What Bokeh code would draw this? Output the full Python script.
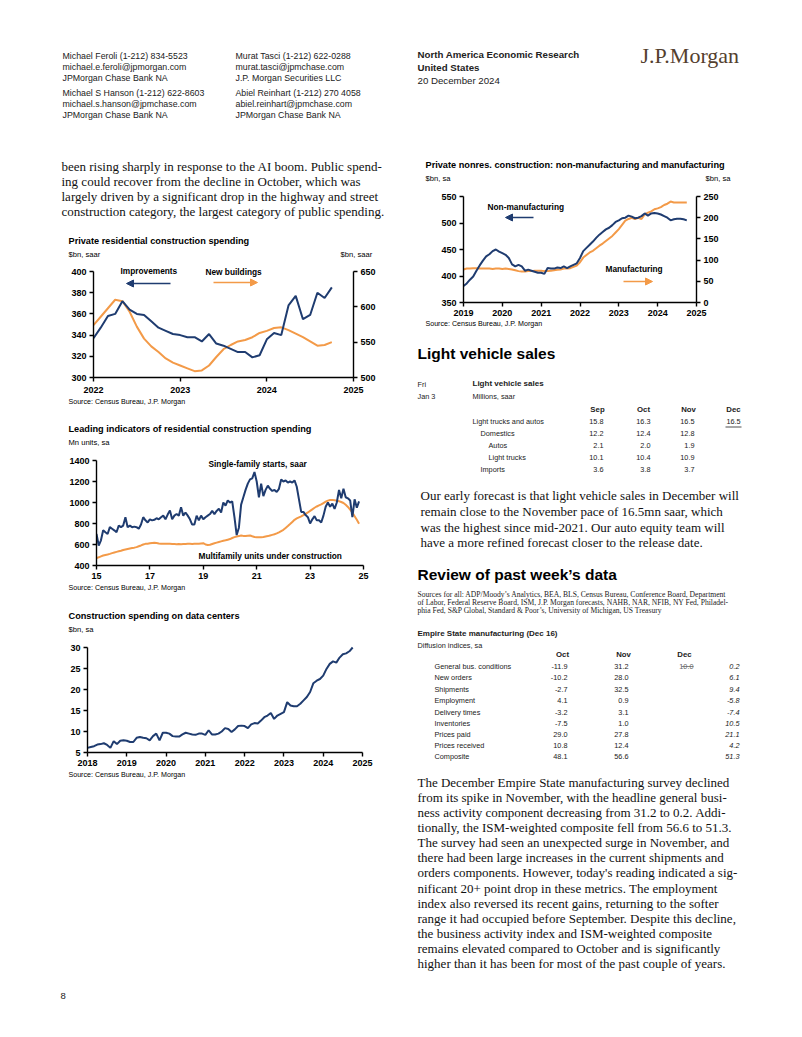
from bokeh.plotting import figure
from bokeh.models import Range1d, LinearAxis, Label, Arrow, NormalHead, FixedTicker
from bokeh.layouts import column, row
from bokeh.core.properties import value
from bokeh.embed import file_html
from bokeh.resources import INLINE

# ---------------- data ----------------
res_start = 2022
res_improvements = [337, 347, 358, 360, 372, 364, 360, 359, 353, 347, 344, 341,
                    340, 338, 338, 334, 341, 332, 330, 327, 324, 324, 319, 321,
                    336, 342, 340, 368, 377, 355, 359, 380, 375, 385]
res_new_buildings = [574, 586, 598, 610, 608, 593, 572, 555, 544, 536, 527, 521,
                     517, 513, 509, 510, 517, 529, 540, 546, 551, 553, 557, 563,
                     566, 570, 571, 567, 562, 557, 551, 545, 546, 550]
res_x_ticks = [2022, 2023, 2024, 2025]
res_left_ticks = [300, 320, 340, 360, 380, 400]
res_right_ticks = [500, 550, 600, 650]

lead_start = 2015
lead_single_family = [700, 590, 640, 735, 717, 700, 765, 750, 735, 717, 780, 765,
                      780, 860, 765, 780, 765, 770, 765, 750, 790, 860, 830, 810,
                      840, 830, 835, 850, 840, 860, 875, 840, 885, 925, 840, 875,
                      890, 875, 955, 875, 905, 875, 840, 790, 790, 875, 830, 875,
                      840, 860, 875, 890, 920, 890, 920, 940, 905, 1000, 970, 1020,
                      1000, 1010, 860, 690, 760, 980, 1050, 1120, 1180, 1220, 1230, 1290,
                      1200, 1050, 1180, 1060, 1120, 1160, 1130, 1110, 1120, 1100, 1130, 1220,
                      1200, 1210, 1190, 1200, 1190, 1210, 1150, 1030, 910, 910, 880, 860,
                      800, 840, 870, 830, 830, 810, 875, 960, 1000, 960, 990, 940,
                      1000, 1120, 1040, 1130, 1050, 1040, 1020, 860, 1030, 950, 1010]
lead_multifamily = [470, 478, 487, 495, 500, 505, 511, 518, 524, 530, 535, 540,
                    547, 552, 557, 562, 566, 570, 575, 583, 591, 600, 606, 608,
                    612, 615, 616, 614, 610, 607, 606, 606, 607, 606, 605, 604,
                    603, 604, 603, 604, 605, 606, 606, 605, 606, 607, 608, 610,
                    612, 600, 596, 598, 605, 612, 618, 624, 630, 636, 640, 646,
                    652, 662, 670, 676, 680, 686, 682, 680, 684, 686, 678, 672,
                    670, 670, 670, 672, 676, 680, 686, 692, 698, 706, 716, 728,
                    740, 758, 776, 795, 815, 835, 848, 858, 868, 880, 892, 905,
                    920, 935, 950, 962, 972, 982, 995, 1008, 1018, 1024, 1025, 1022,
                    1018, 1012, 1005, 995, 978, 958, 932, 905, 870, 835, 798]
lead_x_ticks = [2015, 2017, 2019, 2021, 2023, 2025]
lead_x_labels = ["15", "17", "19", "21", "23", "25"]
lead_y_ticks = [400, 600, 800, 1000, 1200, 1400]

dc_start = 2018
dc_spending = [6.1, 6.3, 6.5, 6.9, 7.0, 7.2, 6.8, 6.1, 7.7, 7.0, 7.8,
               7.9, 7.8, 7.5, 7.5, 8.5, 8.7, 8.5, 8.4, 7.9, 8.9, 9.5, 7.9,
               9.7, 9.7, 9.5, 8.9, 8.8, 8.8, 9.3, 9.7, 9.5, 9.3, 9.2, 9.5,
               9.5, 9.2, 10.3, 9.3, 9.3, 9.5, 10.0, 10.8, 10.6, 9.9, 10.5, 11.3,
               11.4, 11.3, 10.8, 11.7, 12.0, 11.9, 12.6, 13.4, 13.8, 14.4, 13.0, 13.8,
               14.2, 14.6, 17.0, 16.2, 16.0, 16.0, 16.6, 17.4, 18.2, 19.4, 21.5, 22.1,
               22.5, 23.3, 24.9, 26.1, 26.7, 26.4, 27.6, 28.4, 28.6, 29.1, 30.0]
dc_x_ticks = [2018, 2019, 2020, 2021, 2022, 2023, 2024, 2025]
dc_y_ticks = [5, 10, 15, 20, 25, 30]

nonres_start = 2019
nonres_nonmanuf = [381, 386, 393, 399, 410, 420, 429, 437, 441, 447, 450, 446,
                   443, 440, 434, 422, 418, 421, 418, 410, 412, 410, 408, 406,
                   406, 404, 415, 414, 414, 416, 415, 418, 415, 418, 421, 424,
                   434, 447, 453, 459, 465, 472, 478, 483, 488, 491, 496, 502,
                   505, 509, 510, 514, 512, 509, 510, 513, 518, 514, 518, 519,
                   518, 516, 513, 510, 505, 507, 508, 508, 507, 505]
nonres_manuf = [78, 80, 80, 81, 81, 80, 80, 80, 80, 79, 80, 80,
                79, 80, 79, 78, 76, 74, 73, 73, 74, 74, 75, 75,
                75, 74, 74, 75, 76, 77, 78, 80, 80, 81, 84, 87,
                95, 106, 112, 118, 122, 128, 134, 139, 145, 151, 157, 165,
                173, 183, 193, 197, 200, 197, 200, 197, 208, 212, 215, 220,
                222, 225, 230, 233, 238, 236, 236, 236, 236, 236]
nonres_x_ticks = [2019, 2020, 2021, 2022, 2023, 2024, 2025]
nonres_left_ticks = [350, 400, 450, 500, 550]
nonres_right_ticks = [0, 50, 100, 150, 200, 250]

lv_months = ["Sep", "Oct", "Nov", "Dec"]
lv_rows = ["Light trucks and autos", "Domestics", "Autos", "Light trucks", "Imports"]
lv_indent = [0, 1, 2, 2, 1]
lv_sep = [15.8, 12.2, 2.1, 10.1, 3.6]
lv_oct = [16.3, 12.4, 2.0, 10.4, 3.8]
lv_nov = [16.5, 12.8, 1.9, 10.9, 3.7]
lv_dec_forecast = 16.5

es_months = ["Oct", "Nov", "Dec"]
es_rows = ["General bus. conditions", "New orders", "Shipments", "Employment",
           "Delivery times", "Inventories", "Prices paid", "Prices received", "Composite"]
es_oct = [-11.9, -10.2, -2.7, 4.1, -3.2, -7.5, 29.0, 10.8, 48.1]
es_nov = [31.2, 28.0, 32.5, 0.9, 3.1, 1.0, 27.8, 12.4, 56.6]
es_dec_consensus = 10.0
es_dec = [0.2, 6.1, 9.4, -5.8, -7.4, 10.5, 21.1, 4.2, 51.3]

# ---------------- styles ----------------
SANS = "Liberation Sans"
SERIF = "Liberation Serif"
NAVY = "#1f3c70"
ORANGE = "#f39a48"
TXT = "#111111"
GREY = "#222222"


def text_fig(x0, x1, y0, y1):
    p = figure(width=x1 - x0, height=y1 - y0, x_range=Range1d(x0, x1), y_range=Range1d(y1, y0),
               output_backend="svg", toolbar_location=None, x_axis_type=None, y_axis_type=None,
               title=None, min_border=0, min_border_left=0, min_border_right=0,
               min_border_top=0, min_border_bottom=0, frame_align=False)
    p.outline_line_color = None
    return p


def put(p, xs, ys, texts, size, font=SANS, style="normal", align="left", color=TXT):
    p.text(x=xs, y=ys, text=texts, text_font=value(font), text_font_size=f"{size}px",
           text_font_style=style, text_align=align, text_baseline="middle", text_color=color)


def style_axis(ax, ticks, overrides=None, standoff=3, bounds=None):
    ax.ticker = FixedTicker(ticks=ticks)
    ax.axis_line_color = "black"
    ax.axis_line_width = 1.4
    ax.major_tick_line_color = "black"
    ax.major_tick_line_width = 1.4
    ax.major_tick_in = 0
    ax.major_tick_out = 4
    ax.minor_tick_line_color = None
    ax.major_label_text_font = SANS
    ax.major_label_text_font_style = "bold"
    ax.major_label_text_font_size = "9px"
    ax.major_label_text_color = "black"
    ax.major_label_standoff = standoff
    if bounds is not None:
        ax.bounds = bounds
    if overrides:
        ax.major_label_overrides = overrides


def extend(lo, hi, ft, fb, top):
    # range end that puts `hi` at page row ft while the frame starts at page row `top`
    return hi + (ft - top) / (fb - ft) * (hi - lo)


class Chart:
    def __init__(self, px0, py0, w, h, frame, xr, yr):
        fl, ft, fr, fb = frame
        self.frame, self.xr, self.yr = frame, xr, yr
        p = figure(width=w, height=h, output_backend="svg", toolbar_location=None, title=None,
                   x_range=Range1d(*xr), y_range=Range1d(yr[0], extend(yr[0], yr[1], ft, fb, py0)),
                   min_border_left=fl - px0, min_border_right=px0 + w - fr,
                   min_border_top=0, min_border_bottom=py0 + h - fb, frame_align=False)
        p.outline_line_color = None
        p.xgrid.visible = False
        p.ygrid.visible = False
        self.p, self.top = p, py0

    def right_range(self, lo, hi):
        fl, ft, fr, fb = self.frame
        self.p.extra_y_ranges = {"r": Range1d(lo, extend(lo, hi, ft, fb, self.top))}
        ax = LinearAxis(y_range_name="r")
        self.p.add_layout(ax, "right")
        return ax

    def d(self, px, py):
        fl, ft, fr, fb = self.frame
        dx = self.xr[0] + (px - fl) / (fr - fl) * (self.xr[1] - self.xr[0])
        dy = self.yr[0] + (fb - py) / (fb - ft) * (self.yr[1] - self.yr[0])
        return dx, dy

    def lab(self, px, py, txt, size=8.3, style="bold", color="black"):
        dx, dy = self.d(px, py)
        self.p.add_layout(Label(x=dx, y=dy, text=txt, text_font=SANS, text_font_size=f"{size}px",
                                text_font_style=style, text_align="left", text_baseline="middle",
                                text_color=color))

    def arrow(self, px0, py0, px1, py1, color):
        x0, y0 = self.d(px0, py0)
        x1, y1 = self.d(px1, py1)
        self.p.add_layout(Arrow(end=NormalHead(size=7, fill_color=color, line_color=color),
                                x_start=x0, y_start=y0, x_end=x1, y_end=y1,
                                line_color=color, line_width=1.6))


def months(start, n):
    return [start + i / 12 for i in range(n)]


TITLE = 9.2
UNIT = 7.6
SRC = 7.1

# ---------------- header ----------------
hdr = text_fig(0, 794, 0, 148)
header_col1 = ["Michael Feroli  (1-212) 834-5523", "michael.e.feroli@jpmorgan.com", "JPMorgan Chase Bank NA",
               "Michael S Hanson  (1-212) 622-8603", "michael.s.hanson@jpmchase.com", "JPMorgan Chase Bank NA"]
header_col2 = ["Murat Tasci  (1-212) 622-0288", "murat.tasci@jpmchase.com", "J.P. Morgan Securities LLC",
               "Abiel Reinhart  (1-212) 270 4058", "abiel.reinhart@jpmchase.com", "JPMorgan Chase Bank NA"]
hy = [55, 66, 77, 92, 103, 114]
put(hdr, [62] * 6, hy, header_col1, 8.8, color=GREY)
put(hdr, [235] * 6, hy, header_col2, 8.8, color=GREY)
put(hdr, [417, 417], [54, 67], ["North America Economic Research", "United States"], 9.7, style="bold", color=GREY)
put(hdr, [417], [80], ["20 December 2024"], 9.7, color=GREY)
put(hdr, [640], [55], ["J.P.Morgan"], 22, font=SERIF, color="#54402e")

# ---------------- left column ----------------
ta = text_fig(0, 401, 148, 262)
left_para = ["been rising sharply in response to the AI boom. Public spend-",
             "ing could recover from the decline in October, which was",
             "largely driven by a significant drop in the highway and street",
             "construction category, the largest category of public spending."]
put(ta, [61] * 4, [165.5, 180.5, 195.5, 210.5], left_para, 13, font=SERIF)
put(ta, [68], [240], ["Private residential construction spending"], TITLE, style="bold", color="black")
put(ta, [68, 340], [254, 254], ["$bn, saar", "$bn, saar"], UNIT, color="black")

c1 = Chart(0, 262, 401, 135, (93, 271, 353, 377), (2022, 2025), (300, 400))
p1 = c1.p
rax = c1.right_range(500, 650)
style_axis(p1.xaxis[0], res_x_ticks, standoff=5)
style_axis(p1.yaxis[0], res_left_ticks, bounds=(300, 400))
style_axis(rax, res_right_ticks, bounds=(500, 650))
x1 = months(res_start, len(res_improvements))
p1.line(x1, res_new_buildings, y_range_name="r", line_color=ORANGE, line_width=2)
p1.line(x1, res_improvements, line_color=NAVY, line_width=2)
c1.lab(120, 270, "Improvements")
c1.lab(205, 271, "New buildings")
c1.arrow(170, 283, 126, 283, NAVY)
c1.arrow(213, 282, 257, 282, ORANGE)

tb = text_fig(0, 401, 397, 455)
put(tb, [68], [401], ["Source: Census Bureau, J.P. Morgan"], SRC, color="black")
put(tb, [68], [428], ["Leading indicators of residential construction spending"], TITLE, style="bold", color="black")
put(tb, [68], [442], ["Mn units, sa"], UNIT, color="black")

c2 = Chart(0, 455, 401, 128, (96, 460, 363, 565), (2015, 2025), (400, 1400))
p2 = c2.p
style_axis(p2.xaxis[0], lead_x_ticks, dict(zip(lead_x_ticks, lead_x_labels)))
style_axis(p2.yaxis[0], lead_y_ticks, bounds=(400, 1400))
x2 = months(lead_start, len(lead_single_family))
p2.line(x2, lead_multifamily, line_color=ORANGE, line_width=2)
p2.line(x2, lead_single_family, line_color=NAVY, line_width=2)
c2.lab(208, 463, "Single-family starts, saar")
c2.lab(198, 555, "Multifamily units under construction")

tc = text_fig(0, 401, 583, 642)
put(tc, [68], [587], ["Source: Census Bureau, J.P. Morgan"], SRC, color="black")
put(tc, [68], [615], ["Construction spending on data centers"], TITLE, style="bold", color="black")
put(tc, [68], [629], ["$bn, sa"], UNIT, color="black")

c3 = Chart(0, 642, 401, 128, (87, 647, 362, 752), (2018, 2025), (5, 30))
p3 = c3.p
style_axis(p3.xaxis[0], dc_x_ticks)
style_axis(p3.yaxis[0], dc_y_ticks, bounds=(5, 30))
p3.line(months(dc_start, len(dc_spending)), dc_spending, line_color=NAVY, line_width=2)

td = text_fig(0, 401, 770, 790)
put(td, [68], [774], ["Source: Census Bureau, J.P. Morgan"], SRC, color="black")

# ---------------- right column ----------------
ra = text_fig(401, 794, 148, 190)
put(ra, [425], [164], ["Private nonres. construction: non-manufacturing and manufacturing"], TITLE,
    style="bold", color="black")
put(ra, [425, 705], [178, 178], ["$bn, sa", "$bn, sa"], UNIT, color="black")

c4 = Chart(401, 190, 393, 130, (463, 196, 696, 302), (2019, 2025), (350, 550))
p4 = c4.p
rax4 = c4.right_range(0, 250)
style_axis(p4.xaxis[0], nonres_x_ticks)
style_axis(p4.yaxis[0], nonres_left_ticks, bounds=(350, 550))
style_axis(rax4, nonres_right_ticks, bounds=(0, 250))
x4 = months(nonres_start, len(nonres_nonmanuf))
p4.line(x4, nonres_manuf, y_range_name="r", line_color=ORANGE, line_width=2)
p4.line(x4, nonres_nonmanuf, line_color=NAVY, line_width=2)
c4.lab(487, 206, "Non-manufacturing")
c4.lab(605, 268, "Manufacturing")
c4.arrow(533, 217, 505, 217, NAVY)
c4.arrow(623, 281, 652, 281, ORANGE)

rt = text_fig(401, 794, 320, 980)
put(rt, [425], [323], ["Source: Census Bureau, J.P. Morgan"], SRC, color="black")
put(rt, [417], [353], ["Light vehicle sales"], 15.5, style="bold", color="black")
TB = 7.3
put(rt, [417, 417], [384, 396], ["Fri", "Jan 3"], TB, color=GREY)
put(rt, [472], [383], ["Light vehicle sales"], 8, style="bold", color=GREY)
put(rt, [472], [396], ["Millions, saar"], TB, color=GREY)
put(rt, [597, 643, 688, 733], [409] * 4, lv_months, 7.8, style="bold", align="center", color=GREY)
lv_y = [421, 433, 445, 457, 469]
put(rt, [472 + 8 * k for k in lv_indent], lv_y, lv_rows, TB, color=GREY)
put(rt, [603] * 5, lv_y, [f"{v:.1f}" for v in lv_sep], TB, align="right", color=GREY)
put(rt, [650] * 5, lv_y, [f"{v:.1f}" for v in lv_oct], TB, align="right", color=GREY)
put(rt, [694] * 5, lv_y, [f"{v:.1f}" for v in lv_nov], TB, align="right", color=GREY)
put(rt, [733], [lv_y[0]], [f"{lv_dec_forecast:.1f}"], TB, align="center", color=GREY)
rt.segment(x0=[725], y0=[426.5], x1=[741], y1=[426.5], line_color=GREY, line_width=0.8)

right_para1 = ["Our early forecast is that light vehicle sales in December will",
               "remain close to the November pace of 16.5mn saar, which",
               "was the highest since mid-2021. Our auto equity team will",
               "have a more refined forecast closer to the release date."]
put(rt, [420] * 4, [495, 511, 526.5, 542], right_para1, 13, font=SERIF)

put(rt, [417], [574], ["Review of past week\u2019s data"], 15.5, style="bold", color="black")
sources = ["Sources for all: ADP/Moody\u2019s Analytics, BEA, BLS, Census Bureau, Conference Board, Department",
           "of Labor, Federal Reserve Board, ISM, J.P. Morgan forecasts, NAHB, NAR, NFIB, NY Fed, Philadel-",
           "phia Fed, S&P Global, Standard & Poor\u2019s, University of Michigan, US Treasury"]
put(rt, [417] * 3, [594, 602, 610], sources, 7.6, font=SERIF, color=GREY)

put(rt, [417], [633], ["Empire State manufacturing (Dec 16)"], 8, style="bold", color=GREY)
put(rt, [417], [645], ["Diffusion indices, sa"], TB, color=GREY)
put(rt, [562, 623, 684], [654] * 3, es_months, 7.8, style="bold", align="center", color=GREY)
es_y = [666, 677.3, 689, 700.3, 711.7, 723, 734, 745.3, 756]
put(rt, [434] * 9, es_y, es_rows, TB, color=GREY)
put(rt, [567] * 9, es_y, [f"{v:.1f}" for v in es_oct], TB, align="right", color=GREY)
put(rt, [628] * 9, es_y, [f"{v:.1f}" for v in es_nov], TB, align="right", color=GREY)
put(rt, [693], [es_y[0]], [f"{es_dec_consensus:.1f}"], TB, align="right", color="#666")
rt.segment(x0=[681], y0=[es_y[0]], x1=[693], y1=[es_y[0]], line_color="#666", line_width=0.8)
put(rt, [739] * 9, es_y, [f"{v:.1f}" for v in es_dec], TB, style="italic", align="right", color=GREY)

bottom_para = ["The December Empire State manufacturing survey declined",
               "from its spike in November, with the headline general busi-",
               "ness activity component decreasing from 31.2 to 0.2. Addi-",
               "tionally, the ISM-weighted composite fell from 56.6 to 51.3.",
               "The survey had seen an unexpected surge in November, and",
               "there had been large increases in the current shipments and",
               "orders components. However, today's reading indicated a sig-",
               "nificant 20+ point drop in these metrics. The employment",
               "index also reversed its recent gains, returning to the softer",
               "range it had occupied before September. Despite this decline,",
               "the business activity index and ISM-weighted composite",
               "remains elevated compared to October and is significantly",
               "higher than it has been for most of the past couple of years."]
put(rt, [417] * 13, [782 + 15.08 * i for i in range(13)], bottom_para, 13, font=SERIF)

# ---------------- footer ----------------
ft = text_fig(0, 794, 980, 1010)
put(ft, [60], [995], ["8"], 9.5, color=GREY)

left_col = column(ta, c1.p, tb, c2.p, tc, c3.p, td)
right_col = column(ra, c4.p, rt)
page = column(hdr, row(left_col, right_col), ft)

open("out.html", "w").write(file_html(page, INLINE))
